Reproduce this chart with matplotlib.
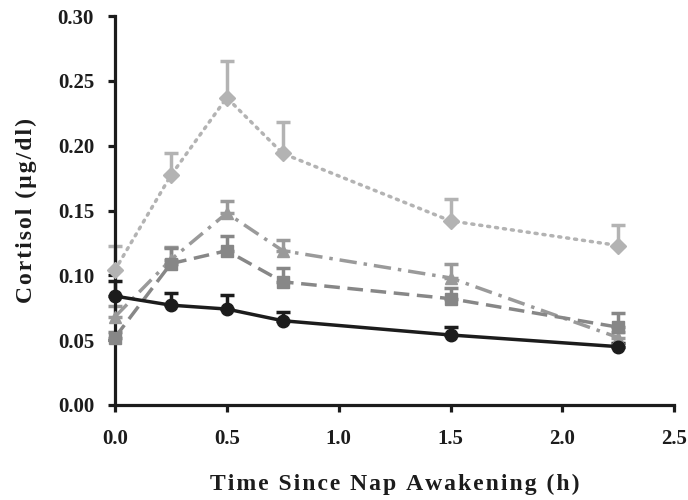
import matplotlib
matplotlib.use("Agg")
import matplotlib.pyplot as plt

time_h = [0.0, 0.25, 0.5, 0.75, 1.5, 2.25]

diamond_vals = [0.104, 0.177, 0.237, 0.194, 0.142, 0.123]
diamond_err = [0.019, 0.017, 0.028, 0.024, 0.017, 0.016]

triangle_vals = [0.068, 0.112, 0.148, 0.119, 0.098, 0.052]
triangle_err = [0.008, 0.010, 0.009, 0.008, 0.011, 0.004]

square_vals = [0.052, 0.109, 0.119, 0.095, 0.082, 0.060]
square_err = [0.004, 0.012, 0.011, 0.011, 0.008, 0.011]

circle_vals = [0.084, 0.077, 0.074, 0.065, 0.054, 0.045]
circle_err = [0.012, 0.009, 0.011, 0.007, 0.006, 0.003]

x_ticks = [0.0, 0.5, 1.0, 1.5, 2.0, 2.5]
y_ticks = [0.00, 0.05, 0.10, 0.15, 0.20, 0.25, 0.30]

x_label = 'Time Since Nap Awakening (h)'
y_label = 'Cortisol (µg/dl)'

plt.rcParams['font.family'] = ['Liberation Serif', 'DejaVu Serif']
plt.rcParams['font.weight'] = 'bold'


def spaced(s, sp):
    return sp.join(s)


fig = plt.figure(figsize=(6.88, 5.0), dpi=100)
ax = fig.add_axes([0.167, 0.19, 0.813, 0.778])

series = [
    (diamond_vals, diamond_err, '#b3b3b3', 'D', (0, (0.6, 1.7)), 8, 'round'),
    (triangle_vals, triangle_err, '#9a9a9a', '^', (0, (5, 2, 1, 2)), 9, 'butt'),
    (square_vals, square_err, '#878787', 's', (0, (4.5, 2.2)), 8, 'butt'),
    (circle_vals, circle_err, '#1c1c1c', 'o', '-', 9, 'butt'),
]

for vals, err, color, marker, ls, ms, cap in series:
    ax.errorbar(time_h, vals, yerr=[[0] * len(err), err], fmt='none',
                ecolor=color, elinewidth=2.5, capsize=5, capthick=2.5, zorder=2)
    line, = ax.plot(time_h, vals, color=color, linestyle=ls, linewidth=2.5,
                    marker=marker, markersize=ms, markerfacecolor=color,
                    markeredgecolor=color, zorder=3)
    line.set_dash_capstyle(cap)

ax.set_xlim(0, 2.5)
ax.set_ylim(0, 0.30)
ax.set_xticks(x_ticks)
ax.set_yticks(y_ticks)
ax.set_xticklabels([f"{v:.1f}" for v in x_ticks], fontsize=15, fontweight='bold')
ax.set_yticklabels([f"{v:.2f}" for v in y_ticks], fontsize=15, fontweight='bold')

for side in ['top', 'right']:
    ax.spines[side].set_visible(False)
for side in ['left', 'bottom']:
    ax.spines[side].set_linewidth(2.3)
    ax.spines[side].set_color('#1c1c1c')
    ax.spines[side].set_capstyle('projecting')

ax.tick_params(axis='both', direction='out', length=5, width=2.3, color='#1c1c1c')
ax.tick_params(axis='y', pad=10)
ax.tick_params(axis='x', pad=12)
for lbl in ax.get_xticklabels() + ax.get_yticklabels():
    lbl.set_color('#1c1c1c')

ax.set_xlabel(spaced(x_label, '\u200a'), fontsize=17, fontweight='bold',
              labelpad=18, color='#1c1c1c')
ax.set_ylabel(spaced(y_label, '\u200a'), fontsize=17, fontweight='bold',
              labelpad=15, color='#1c1c1c')
for art in ax.lines + ax.collections:
    art.set_clip_on(False)

fig.savefig('out.png', dpi=100)
